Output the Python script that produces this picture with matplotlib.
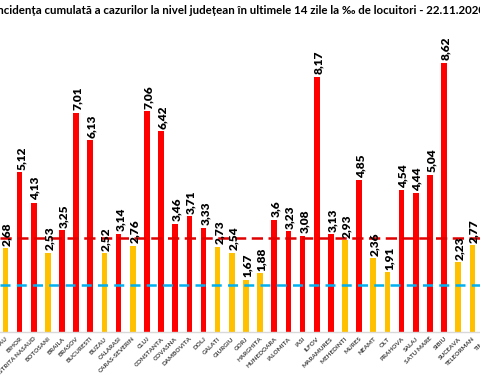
import matplotlib
matplotlib.use("Agg")
import matplotlib.pyplot as plt

counties = ["BACAU", "BIHOR", "BISTRITA NASAUD", "BOTOSANI", "BRAILA", "BRASOV",
            "BUCURESTI", "BUZAU", "CALARASI", "CARAS-SEVERIN", "CLUJ", "CONSTANTA",
            "COVASNA", "DAMBOVITA", "DOLJ", "GALATI", "GIURGIU", "GORJ", "HARGHITA",
            "HUNEDOARA", "IALOMITA", "IASI", "ILFOV", "MARAMURES", "MEHEDINTI",
            "MURES", "NEAMT", "OLT", "PRAHOVA", "SALAJ", "SATU MARE", "SIBIU",
            "SUCEAVA", "TELEORMAN", "TIMIS"]
values = [2.68, 5.12, 4.13, 2.53, 3.25, 7.01, 6.13, 2.52, 3.14, 2.76, 7.06, 6.42,
          3.46, 3.71, 3.33, 2.73, 2.54, 1.67, 1.88, 3.60, 3.23, 3.08, 8.17, 3.13,
          2.93, 4.85, 2.36, 1.91, 4.54, 4.44, 5.04, 8.62, 2.23, 2.77, 5.76]
red_threshold = 3.0
blue_threshold = 1.5

title = "Incidența cumulată a cazurilor la nivel județean în ultimele 14 zile la ‰ de locuitori - 22.11.2020"

RED = "#FF0000"
YELLOW = "#FFC000"
BLUE = "#00B0F0"

fig = plt.figure(figsize=(4.8, 3.8), dpi=100)
ax = fig.add_axes([0, 48/380, 1, 312.5/380])

x = list(range(len(counties)))
colors = [RED if v >= red_threshold else YELLOW for v in values]
ax.bar(x, values, width=0.4, color=colors, zorder=2)

ax.axhline(red_threshold, color="#E00000", lw=1.8, ls=(0, (4.5, 2.2)), zorder=3)
ax.axhline(blue_threshold, color=BLUE, lw=1.8, ls=(0, (4, 2.5)), zorder=3)

for xi, v in zip(x, values):
    ax.text(xi + 0.12, v + 0.08, f"{v:.2f}".rstrip("0").rstrip(".").replace(".", ","),
            rotation=90, ha="center", va="bottom", fontsize=8.6, fontweight="heavy",
            family="Lato", color="#000000", zorder=4, clip_on=True)

label_kw = dict(rotation=45, ha="right", rotation_mode="anchor",
                fontsize=4.6, color="#404040", fontweight="bold", family="Lato")
ax.set_xticks(x[:-1])
ax.set_xticklabels(counties[:-1], **label_kw)
ax.tick_params(axis="x", length=0, pad=3)
# label of the last category sits just past the right edge of the view
ax.annotate(counties[-1], xy=(x[-1], 0), xycoords="data", xytext=(0, -3),
            textcoords="offset points", va="top", annotation_clip=False, **label_kw)
ax.set_yticks([])
ax.set_xlim(-0.38, 33.54)
ax.set_ylim(0, 10)
for s in ["top", "left", "right"]:
    ax.spines[s].set_visible(False)
ax.spines["bottom"].set_color("#D9D9D9")
ax.spines["bottom"].set_linewidth(1)

fig.text(0.5, 1 - 10/380, title, ha="center", va="center", fontsize=8.3,
         fontweight="bold", family="Lato", color="#000000")

fig.savefig("out.png", dpi=100)
